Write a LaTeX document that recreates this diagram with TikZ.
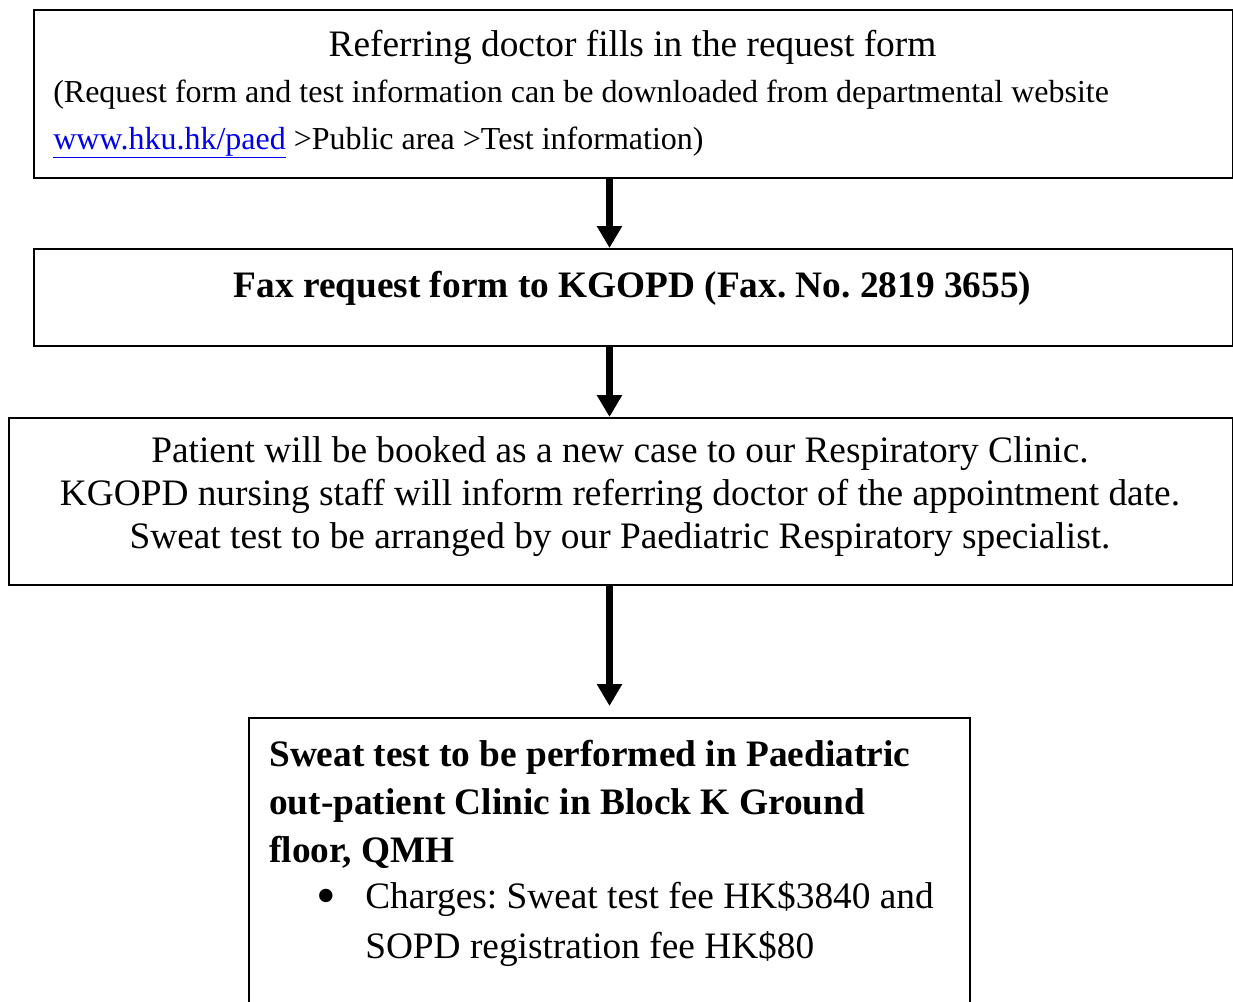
\documentclass[tikz,border=0pt]{standalone}
\usepackage{fontspec}
\setmainfont{Liberation Serif}
\usetikzlibrary{arrows.meta}
\definecolor{linkblue}{RGB}{0,0,238}
\frenchspacing

\begin{document}
\begin{tikzpicture}[x=0.75pt,y=-0.75pt,font=\fontsize{28}{33}\selectfont,
    box/.style={draw,line width=1.5pt,inner sep=0pt,anchor=north west},
    txt/.style={inner sep=0pt},
    flow/.style={-{Triangle[width=18pt,length=16.5pt]},line width=5.25pt}]
    \useasboundingbox (0,0) rectangle (1233,1001);
    \clip (0,0) rectangle (1233,1001);
    \node[box,minimum width=899.25pt,minimum height=126pt] (b1) at (33,9) {};
    \node[box,minimum width=899.25pt,minimum height=72.75pt] (b2) at (33,248) {};
    \node[box,minimum width=918pt,minimum height=125.25pt] (b3) at (8,417) {};
    \node[box,minimum width=540.75pt,minimum height=240pt] (b4) at (248,717) {};
    \node[txt,anchor=base] (b1title) at (632.5,56) {Referring doctor fills in the request form};
    \node[txt,anchor=base west,align=left,font=\fontsize{24}{35.25}\selectfont] (b1note) at (53,149)
      {(Request form and test information can be downloaded from departmental website\\
       {\color{linkblue}\underline{www.hku.hk/paed}} >Public area >Test information)};
    \node[txt,anchor=base,font=\fontsize{28}{33}\selectfont\bfseries] (b2text) at (632.5,297)
      {Fax request form to KGOPD (Fax. No. 2819 3655)};
    \node[txt,anchor=base,align=center,font=\fontsize{28}{32.25}\selectfont] (b3text) at (620,548)
      {Patient will be booked as a new case to our Respiratory Clinic.\\
       KGOPD nursing staff will inform referring doctor of the appointment date.\\
       Sweat test to be arranged by our Paediatric Respiratory specialist.};
    \node[txt,anchor=base west,align=left,font=\fontsize{28}{36}\selectfont\bfseries] (b4title) at (269,862)
      {Sweat test to be performed in Paediatric\\
       out-patient Clinic in Block K Ground\\
       floor, QMH};
    \node[txt,anchor=base,font=\fontsize{42}{42}\selectfont] (bullet) at (326,914) {\textbullet};
    \node[txt,anchor=base west,align=left,font=\fontsize{28}{37.5}\selectfont] (charges) at (365,958)
      {Charges: Sweat test fee HK\$3840 and\\
       SOPD registration fee HK\$80};
    \draw[flow] (b1.south -| b4.north) -- (b2.north -| b4.north);
    \draw[flow] (b2.south -| b4.north) -- (b3.north -| b4.north);
    \draw[flow,shorten >=8.25pt] (b3.south -| b4.north) -- (b4.north);
  \end{tikzpicture}
\end{document}
